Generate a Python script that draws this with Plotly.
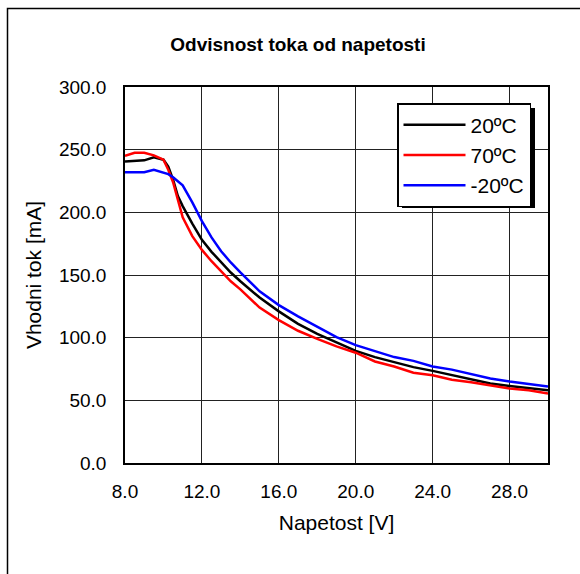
import plotly.graph_objects as go

napetost = [8.0, 8.5, 9.0, 9.5, 10.0, 10.25, 10.5, 10.75, 11.0, 11.5, 12.0, 12.5, 13.0, 13.5, 14.0,
            15.0, 16.0, 17.0, 18.0, 19.0, 20.0, 21.0, 22.0, 23.0, 24.0, 25.0, 26.0, 27.0, 28.0, 29.0, 30.0]
tok_20 = [240.5, 241, 241.5, 244, 242, 236.5, 226, 213, 205, 191, 178, 168.5, 160, 152, 145,
          132, 121, 111, 103, 96, 89.5, 84.5, 80.5, 76.5, 73.5, 70, 66.5, 63.5, 61.5, 60, 58]
tok_70 = [245, 247.5, 247.5, 245.5, 242, 234, 224, 209, 196, 181, 170, 161, 153, 145, 138.5,
          124, 114, 105.5, 99, 93, 88, 81, 77, 72, 70, 66.5, 64.5, 62, 59.5, 58, 55.5]
tok_m20 = [232, 232, 232, 234, 232, 230.5, 228, 225, 221.5, 208, 193, 180, 169, 160, 152,
           137, 126, 117, 108.5, 100.5, 94, 89, 84.5, 81.5, 77, 74.5, 71, 67.5, 65, 63, 61]

series_names = ["20ºC", "70ºC", "-20ºC"]
series_colors = ["#000000", "#ff0000", "#0000ff"]
x_ticks = [8, 12, 16, 20, 24, 28]
y_ticks = [0, 50, 100, 150, 200, 250, 300]

W, H = 580, 574
L, R, T, B = 125, 32, 87, 111
pw, ph = W - L - R, H - T - B

def px_x(p):
    return (p - L) / pw

def px_y(p):
    return (H - B - p) / ph

fig = go.Figure()
for name, vals, col in zip(series_names, [tok_20, tok_70, tok_m20], series_colors):
    fig.add_trace(go.Scatter(x=napetost, y=vals, mode="lines", name=name,
                             legendgroup=name,
                             line=dict(color=col, width=2.5)))

font_family = "Liberation Sans, Arial, sans-serif"

# legend box geometry (pixels)
lg_x0, lg_y0, lg_x1, lg_y1 = 397, 103, 530, 203
shapes = [
    # outer chart frame
    dict(type="rect", xref="paper", yref="paper",
         x0=px_x(7.5), x1=px_x(600), y0=px_y(8.5), y1=px_y(600),
         line=dict(color="black", width=1.5), fillcolor="rgba(0,0,0,0)", layer="below"),
    # legend shadow
    dict(type="rect", xref="paper", yref="paper",
         x0=px_x(lg_x0 + 5), x1=px_x(lg_x1 + 5), y0=px_y(lg_y0 + 5), y1=px_y(lg_y1 + 5),
         line=dict(width=0), fillcolor="black", layer="above"),
]

fig.update_layout(
    width=W, height=H,
    margin=dict(l=L, r=R, t=T, b=B),
    paper_bgcolor="white", plot_bgcolor="white",
    font=dict(family=font_family, color="black", size=19),
    title=dict(text="<b>Odvisnost toka od napetosti</b>", x=298 / W, xref="container",
               xanchor="center", y=1 - 44 / H, yanchor="middle",
               font=dict(size=19, family=font_family, color="black")),
    xaxis=dict(range=[8, 30], tickvals=x_ticks, ticktext=[f"{v:.1f}" for v in x_ticks],
               showgrid=True, gridcolor="#222222", gridwidth=1,
               showline=True, linecolor="black", linewidth=1.5, mirror=True,
               ticks="", zeroline=False, ticklabelstandoff=10,
               title=dict(text="Napetost [V]", font=dict(size=21), standoff=15),
               tickfont=dict(size=19)),
    yaxis=dict(range=[0, 300], tickvals=y_ticks, ticktext=[f"{v:.1f}" for v in y_ticks],
               showgrid=True, gridcolor="#222222", gridwidth=1,
               showline=True, linecolor="black", linewidth=1.5, mirror=True,
               ticks="", zeroline=False, ticklabelstandoff=13,
               title=dict(text="Vhodni tok [mA]", font=dict(size=21), standoff=12),
               tickfont=dict(size=19)),
    legend=dict(x=px_x(lg_x0), y=px_y(lg_y0), xanchor="left", yanchor="top",
                bgcolor="white", bordercolor="black", borderwidth=1.5,
                font=dict(size=21, family=font_family), tracegroupgap=0,
                itemwidth=62),
    shapes=shapes,
    showlegend=True,
)

fig.write_html("out.html", post_script="document.body.style.margin='0px';",
               config={"displayModeBar": False})
